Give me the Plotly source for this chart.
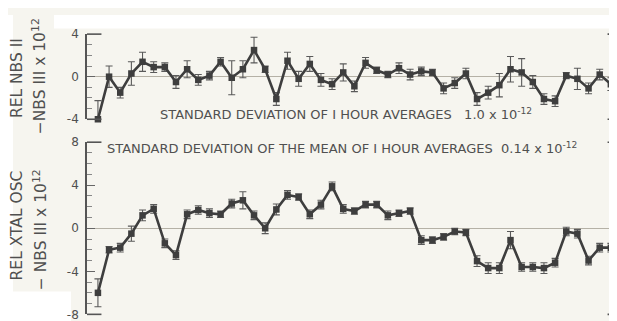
import plotly.graph_objects as go

# ---- data ----
top_vals = [-4.0, 0.0, -1.5, 0.3, 1.4, 0.9, 0.9, -0.5, 0.7, -0.3, 0.1, 1.4,
            -0.1, 0.7, 2.5, 0.7, -2.1, 1.5, -0.2, 1.2, -0.3, -0.7, 0.4, -0.9,
            1.3, 0.6, 0.2, 0.8, 0.2, 0.5, 0.4, -1.1, -0.6, 0.3, -2.1, -1.5,
            -0.8, 0.7, 0.4, -0.5, -2.1, -2.3, 0.1, -0.2, -1.1, 0.2, -0.7, 0.3]
top_errs = [1.75, 1.0, 0.5, 1.1, 0.9, 0.5, 0.4, 0.6, 0.8, 0.5, 0.4, 0.4,
            1.6, 0.8, 1.2, 0.3, 0.6, 0.8, 0.7, 0.7, 0.6, 0.5, 0.8, 0.5,
            0.5, 0.3, 0.3, 0.5, 0.5, 0.4, 0.3, 0.5, 0.5, 0.5, 0.6, 0.6,
            1.1, 1.2, 1.3, 0.6, 0.5, 0.5, 0.3, 1.0, 0.5, 0.5, 0.6, 0.5]
bot_vals = [-6.0, -2.0, -1.8, -0.5, 1.2, 1.8, -1.4, -2.5, 1.3, 1.7, 1.4, 1.3,
            2.3, 2.6, 1.2, 0.0, 1.75, 3.1, 2.9, 1.3, 2.2, 3.9, 1.8, 1.6,
            2.2, 2.2, 1.2, 1.4, 1.6, -1.1, -1.1, -0.8, -0.3, -0.4, -3.05, -3.7,
            -3.7, -1.1, -3.6, -3.6, -3.7, -3.2, -0.3, -0.5, -3.0, -1.8, -1.8]
bot_errs = [1.3, 0.3, 0.4, 0.7, 0.5, 0.4, 0.4, 0.4, 0.4, 0.4, 0.4, 0.3,
            0.4, 0.8, 0.4, 0.5, 0.5, 0.4, 0.3, 0.4, 0.4, 0.4, 0.4, 0.3,
            0.3, 0.3, 0.4, 0.3, 0.3, 0.4, 0.3, 0.3, 0.3, 0.3, 0.5, 0.5,
            0.5, 0.8, 0.4, 0.4, 0.5, 0.4, 0.4, 0.4, 0.4, 0.4, 0.4]
top_ticks = [-4, 0, 4]
top_ticktext = ["-4", "0", "4"]
bot_ticks = [-8, -4, 0, 4, 8]
bot_ticktext = ["-8", "-4", "0", "4", "8"]
note_top = "STANDARD DEVIATION OF I HOUR AVERAGES&nbsp;&nbsp; 1.0 x 10<sup>-12</sup>"
note_bot = "STANDARD DEVIATION OF THE MEAN OF I HOUR AVERAGES&nbsp; 0.14 x 10<sup>-12</sup>"
top_title = ["REL NBS II", "\u2212NBS III x 10<sup>12</sup>"]
bot_title = ["REL XTAL OSC", "\u2212 NBS III x 10<sup>12</sup>"]

W, H = 617, 321
INK = "#3e3e3e"
PAPER = "#f6f5ef"
TXT = "#505050"
FONT = "DejaVu Sans"

def fx(px):
    return px / W

def fy(py):
    return (H - py) / H

x_top = list(range(len(top_vals)))
x_bot = list(range(len(bot_vals)))

fig = go.Figure()

def add_series(x, y, e, xa, ya):
    fig.add_trace(go.Scatter(
        x=x, y=y, xaxis=xa, yaxis=ya, mode="lines+markers",
        line=dict(color=INK, width=2.6),
        marker=dict(symbol="square", size=6.5, color=INK),
        error_y=dict(type="data", array=e, visible=True, color="#5a5a5a",
                     thickness=1.1, width=3.5),
        cliponaxis=False, showlegend=False, hoverinfo="skip"))

add_series(x_top, top_vals, top_errs, "x", "y")
add_series(x_bot, bot_vals, bot_errs, "x2", "y2")

xdom = [fx(79), fx(614)]
xrange_ = [-0.98, 47.0]

yax_common = dict(
    showline=True, linecolor="#555", linewidth=1.6, mirror="ticks",
    ticks="inside", ticklen=8, tickwidth=1, tickcolor="#666",
    minor=dict(dtick=1, ticks="inside", ticklen=5, tickcolor="#888", tickwidth=1),
    showgrid=False, zeroline=True, zerolinecolor="#b5b1a6", zerolinewidth=1,
    tickfont=dict(family=FONT, size=12, color=TXT),
    ticklabelstandoff=4,
)

fig.update_layout(
    width=W, height=H,
    margin=dict(l=0, r=0, t=0, b=0),
    paper_bgcolor=PAPER, plot_bgcolor=PAPER,
    xaxis=dict(domain=xdom, range=xrange_, visible=False, anchor="y"),
    xaxis2=dict(domain=xdom, range=xrange_, visible=False, anchor="y2"),
    yaxis=dict(domain=[fy(109), fy(20)], range=[-4, 4], tickvals=top_ticks,
               ticktext=top_ticktext, anchor="x", **yax_common),
    yaxis2=dict(domain=[fy(313), fy(133)], range=[-8, 8], tickvals=bot_ticks,
                ticktext=bot_ticktext, anchor="x2", **yax_common),
)

# bracket ends on the panels
shapes = []
for ya in ["y domain", "y2 domain"]:
    xr = "x domain" if ya == "y domain" else "x2 domain"
    for yv in [0, 1]:
        shapes.append(dict(type="line", xref=xr, yref=ya, x0=0, x1=0.027,
                           y0=yv, y1=yv, line=dict(color="#555", width=1.6)))
        shapes.append(dict(type="line", xref=xr, yref=ya, x0=0.973, x1=1,
                           y0=yv, y1=yv, line=dict(color="#555", width=1.6)))
# scan artifacts: white patches
shapes.append(dict(type="rect", xref="paper", yref="paper", x0=fx(46), x1=1,
                   y0=fy(14), y1=1, fillcolor="white", line=dict(width=0), layer="below"))
shapes.append(dict(type="rect", xref="paper", yref="paper", x0=0, x1=fx(63),
                   y0=0, y1=fy(289), fillcolor="white", line=dict(width=0), layer="below"))
shapes.append(dict(type="rect", xref="paper", yref="paper", x0=0, x1=fx(5),
                   y0=0, y1=1, fillcolor="white", line=dict(width=0), layer="below"))
fig.update_layout(shapes=shapes)

ann = []
ann.append(dict(text=note_top, x=fx(150), y=fy(104), xanchor="left", yanchor="middle",
                font=dict(family=FONT, size=13, color=TXT)))
ann.append(dict(text=note_bot, x=fx(97), y=fy(139), xanchor="left", yanchor="middle",
                font=dict(family=FONT, size=13, color=TXT)))
# y titles
TF = dict(family=FONT, size=15.5, color=TXT)
ann.append(dict(text=top_title[0], x=fx(9), y=fy(66), textangle=-90,
                xanchor="center", yanchor="middle", font=TF))
ann.append(dict(text=top_title[1], x=fx(31), y=fy(64), textangle=-90,
                xanchor="center", yanchor="middle", font=TF))
ann.append(dict(text=bot_title[0], x=fx(9), y=fy(220), textangle=-90,
                xanchor="center", yanchor="middle", font=TF))
ann.append(dict(text=bot_title[1], x=fx(32), y=fy(225), textangle=-90,
                xanchor="center", yanchor="middle", font=TF))
for a in ann:
    a.update(xref="paper", yref="paper", showarrow=False)
fig.update_layout(annotations=ann)

fig.write_html("out.html")
